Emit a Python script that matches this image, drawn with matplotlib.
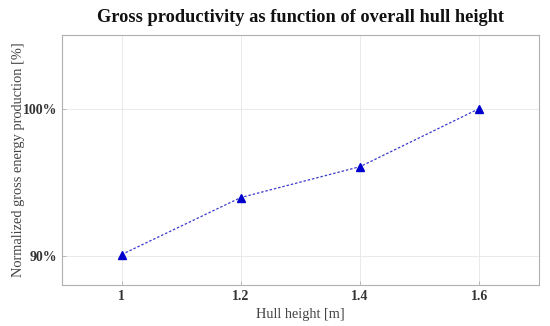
import matplotlib
matplotlib.use("Agg")
import matplotlib.pyplot as plt
from matplotlib.ticker import FuncFormatter

hull_height = [1.0, 1.2, 1.4, 1.6]
energy_pct = [90.07, 93.95, 96.05, 100.0]
x_ticks = [1.0, 1.2, 1.4, 1.6]
x_tick_labels = ["1", "1.2", "1.4", "1.6"]
y_ticks = [90, 100]

plt.rcParams['font.family'] = ['Liberation Serif', 'DejaVu Serif']

fig = plt.figure(figsize=(5.5, 3.26), dpi=100)
ax = fig.add_axes([62 / 550, 1 - 285 / 326, (539 - 62) / 550, (285 - 35) / 326])

ax.plot(hull_height, energy_pct, linestyle=(0, (2, 1.5)), color='#3a3acc', linewidth=0.9,
        marker='^', markersize=5.5, markerfacecolor='#0000cc', markeredgecolor='#0000cc')

ax.set_xlim(0.9, 1.7)
ax.set_ylim(88, 105)
ax.set_xticks(x_ticks)
ax.set_xticklabels(x_tick_labels)
ax.set_yticks(y_ticks)
ax.yaxis.set_major_formatter(FuncFormatter(lambda v, p: f"{v:.0f}%"))

ax.grid(True, color='#e6e6e6', linewidth=0.6)
ax.set_axisbelow(True)
for s in ax.spines.values():
    s.set_color('#b0b0b0')
    s.set_linewidth(0.8)
ax.tick_params(colors='#b0b0b0', labelcolor='#333333', labelsize=10, length=3, width=0.6, direction='in')
for lbl in ax.get_xticklabels() + ax.get_yticklabels():
    lbl.set_fontweight('bold')

ax.set_xlabel("Hull height [m]", fontsize=10.3, color='#444444', labelpad=4)
ax.set_ylabel("Normalized gross energy production [%]", fontsize=10.4, color='#444444')
ax.yaxis.set_label_coords(-0.078, 0.5)
ax.set_title("Gross productivity as function of overall hull height", fontsize=13.2,
             fontweight='bold', color='#111111', pad=9)

fig.savefig("out.png", dpi=100)
